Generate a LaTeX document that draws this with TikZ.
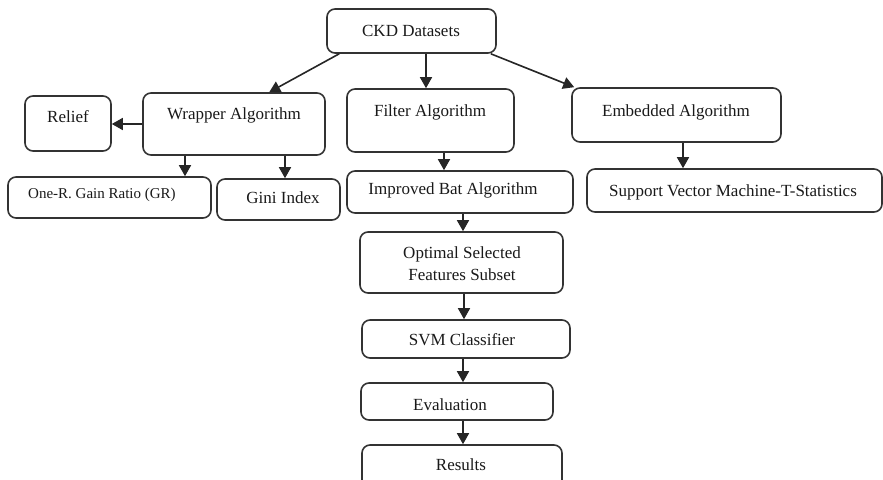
\documentclass[tikz,border=0pt]{standalone}
\usepackage{fontspec}
\setmainfont{Liberation Serif}
\usetikzlibrary{arrows.meta,calc}
\begin{document}
\begin{tikzpicture}[x=1pt,y=-1pt,
  box/.style={draw=black!80, line width=1.6pt, rounded corners=8pt, inner sep=0pt},
  lab/.style={inner sep=0pt, font=\fontsize{17}{21}\selectfont, text=black!90},
  arr/.style={draw=black!85, line width=1.6pt, -{Triangle[length=11pt,width=12pt]}}]
\useasboundingbox (0,0) rectangle (883,479);
\clip (0,0) rectangle (883,479);
\newcommand{\bx}[5]{\node[box, minimum width={#4-#2}, minimum height={#5-#3}] (#1) at ({(#2+#4)/2},{(#3+#5)/2}) {};}
% boxes
\bx{ckd}{327}{9}{496}{53}
\bx{wrap}{143}{93}{325}{155}
\bx{rel}{25}{96}{111}{151}
\bx{oner}{8}{177}{211}{218}
\bx{gini}{217}{179}{340}{220}
\bx{filt}{347}{89}{514}{152}
\bx{iba}{347}{171}{573}{213}
\bx{emb}{572}{88}{781}{142}
\bx{svmt}{587}{169}{882}{212}
\bx{opt}{360}{232}{563}{293}
\bx{svm}{362}{320}{570}{358}
\bx{eval}{361}{383}{553}{420}
\bx{res}{362}{445}{562}{495}
% labels
\node[lab] (ckdT) at (411,31) {CKD Datasets};
\node[lab] (wrapT) at (234,115) {Wrapper Algorithm};
\node[lab] (relT) at (68,117) {Relief};
\node[lab, anchor=west, font=\fontsize{15}{18}\selectfont] (onerT) at (28,195) {One-R. Gain Ratio (GR)};
\node[lab] (giniT) at (283,198) {Gini Index};
\node[lab] (filtT) at (430,112) {Filter Algorithm};
\node[lab] (ibaT) at (453,190) {Improved Bat Algorithm};
\node[lab] (embT) at (676,112) {Embedded Algorithm};
\node[lab] (svmtT) at (733,192) {Support Vector Machine-T-Statistics};
\node[lab, align=center, font=\fontsize{17}{22}\selectfont] (optT) at (462,264) {Optimal Selected\\Features Subset};
\node[lab] (svmT) at (462,340) {SVM Classifier};
\node[lab] (evalT) at (450,405) {Evaluation};
\node[lab] (resT) at (461,465) {Results};
% connectors
\draw[arr] ([xshift=13pt]ckd.south west) -- ([xshift=127pt]wrap.north west);
\draw[arr] ([xshift=14.5pt]ckd.south) -- ([xshift=14.5pt]ckd.south |- filt.north);
\draw[arr] ([xshift=-6pt]ckd.south east) -- ([xshift=3pt]emb.north west);
\draw[arr] (wrap.west) -- (wrap.west -| rel.east);
\draw[arr] ([xshift=-49pt]wrap.south) -- ([xshift=-49pt]wrap.south |- oner.north);
\draw[arr] ([xshift=51pt]wrap.south) -- ([xshift=51pt]wrap.south |- gini.north);
\draw[arr] ([xshift=13.5pt]filt.south) -- ([xshift=13.5pt]filt.south |- iba.north);
\draw[arr] ([xshift=3pt]iba.south) -- ([xshift=3pt]iba.south |- opt.north);
\draw[arr] ([xshift=2.5pt]opt.south) -- ([xshift=2.5pt]opt.south |- svm.north);
\draw[arr] ([xshift=-3pt]svm.south) -- ([xshift=-3pt]svm.south |- eval.north);
\draw[arr] ([xshift=6pt]eval.south) -- ([xshift=6pt]eval.south |- res.north);
\draw[arr] ([xshift=6.5pt]emb.south) -- ([xshift=6.5pt]emb.south |- svmt.north);
\end{tikzpicture}
\end{document}
